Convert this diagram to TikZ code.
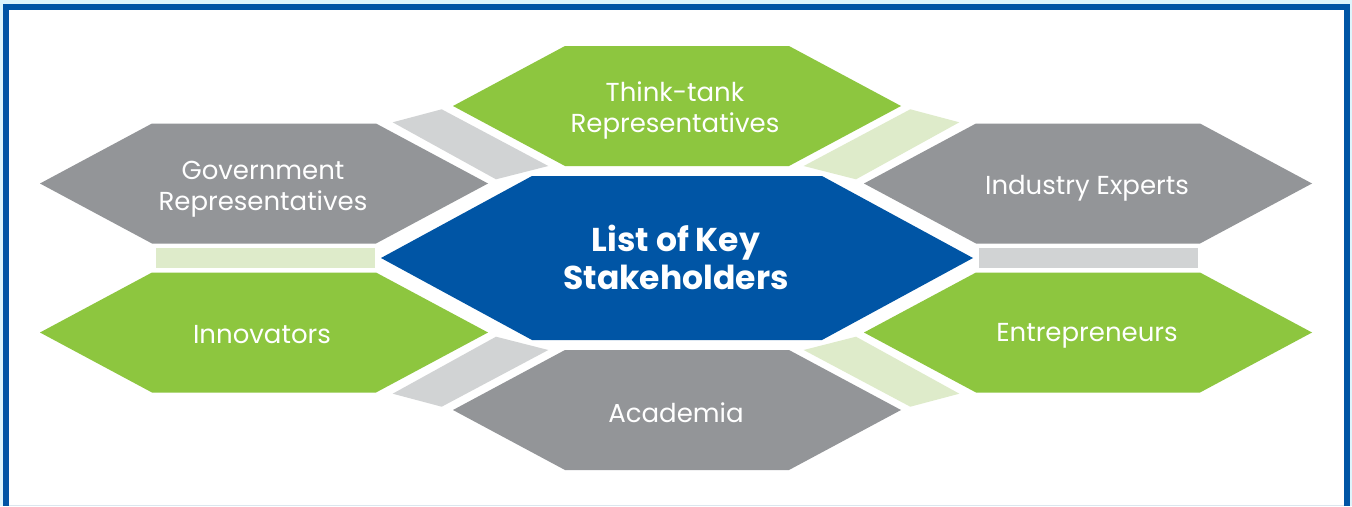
\documentclass[tikz,border=0pt]{standalone}
\usepackage{fontspec}
\setmainfont{Poppins}
\definecolor{frameblue}{HTML}{0055A5}
\definecolor{outercyan}{HTML}{DDF5FC}
\definecolor{hexgreen}{HTML}{8DC63F}
\definecolor{hexgrey}{HTML}{939598}
\definecolor{barlightgrey}{HTML}{D1D3D4}
\definecolor{barlightgreen}{HTML}{DEEBCA}
\definecolor{bottomline}{HTML}{DCE6EE}
\begin{document}
\begin{tikzpicture}[x=1pt,y=-1pt,
  hexa/.pic={\fill[#1] (-224,0) -- (-112,-60) -- (112,-60) -- (224,0) -- (112,60) -- (-112,60) -- cycle;},
  lbl/.style={text=white,align=center,inner sep=0pt,font=\fontsize{26}{31}\selectfont},
  mainlbl/.style={text=white,align=center,inner sep=0pt,font=\bfseries\fontsize{33}{38}\selectfont}]
\useasboundingbox (0,0) rectangle (1352,506);
% frame
\fill[outercyan] (0,0) rectangle (1352,506);
\fill[frameblue] (3,4) rectangle (1350,506);
\fill[white] (8.5,10) rectangle (1343.5,506);
\fill[bottomline] (8.5,504.5) rectangle (1343.5,506);
% connector bars
\fill[barlightgreen] (156,248) rectangle (375,267.5);
\fill[barlightgrey] (979,248) rectangle (1198,267.5);
\fill[barlightgrey] (392.7,122.3) -- (441.7,109.3) -- (548.3,166) -- (496,179.3) -- cycle;
\fill[barlightgreen] (959.3,122.3) -- (910.3,109.3) -- (803.7,166) -- (856,179.3) -- cycle;
\fill[barlightgrey] (392.7,393.7) -- (441.7,406.7) -- (548.3,350) -- (496,336.7) -- cycle;
\fill[barlightgreen] (959.3,393.7) -- (910.3,406.7) -- (803.7,350) -- (856,336.7) -- cycle;
% hexagons
\pic at (677,106) {hexa=hexgreen};
\pic at (677,410) {hexa=hexgrey};
\pic at (264,183.5) {hexa=hexgrey};
\pic at (264,332.5) {hexa=hexgreen};
\pic at (1088,183.5) {hexa=hexgrey};
\pic at (1088,332.5) {hexa=hexgreen};
\fill[frameblue] (381,258) -- (532,176) -- (822,176) -- (973,258) -- (822,340) -- (532,340) -- cycle;
% labels
\node[mainlbl] (center) at (676,257.5) {List of Key\\Stakeholders};
\node[lbl] (think) at (675,110) {Think-tank\\Representatives};
\node[lbl] (gov) at (263,189) {Government\\Representatives};
\node[lbl] (ind) at (1087,188) {Industry Experts};
\node[lbl] (inn) at (262,335) {Innovators};
\node[lbl] (ent) at (1087,336) {Entrepreneurs};
\node[lbl] (aca) at (676,412.5) {Academia};
\end{tikzpicture}
\end{document}
